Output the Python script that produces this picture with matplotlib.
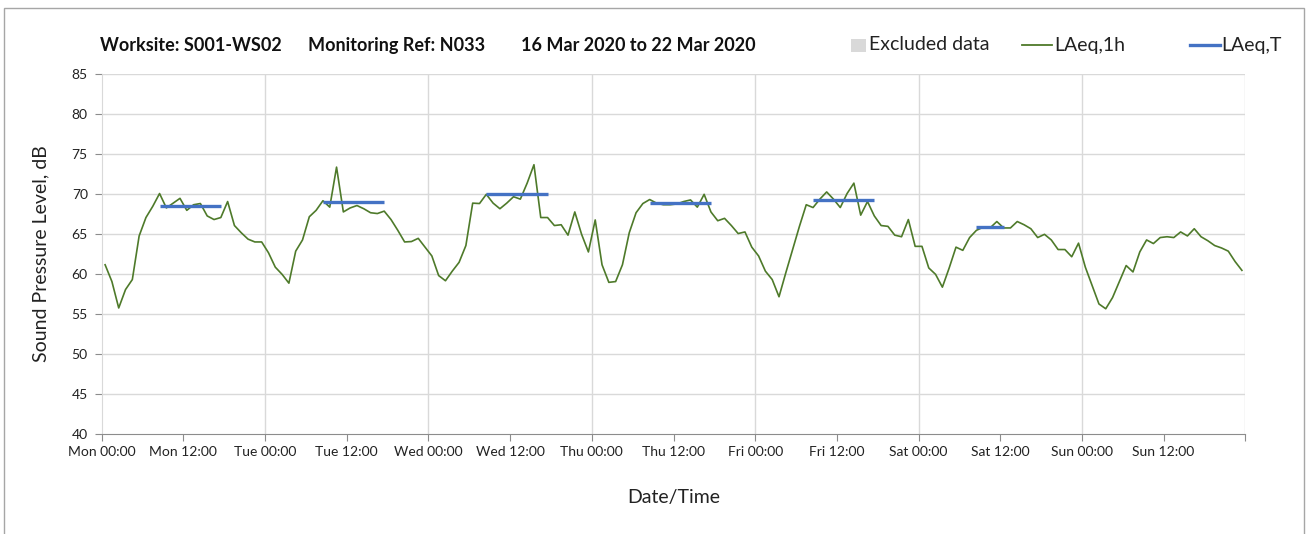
import matplotlib
matplotlib.use("Agg")
import matplotlib.pyplot as plt
from matplotlib.lines import Line2D
from matplotlib.patches import Rectangle
import numpy as np

plt.rcParams['font.family'] = ['Lato', 'DejaVu Sans']

title_parts = ["Worksite: S001-WS02", "Monitoring Ref: N033", "16 Mar 2020 to 22 Mar 2020"]
legend_labels = ["Excluded data", "LAeq,1h", "LAeq,T"]
day_names = ["Mon", "Tue", "Wed", "Thu", "Fri", "Sat", "Sun"]

# Hourly LAeq,1h values per day (hours 00..23)
mon = [61.1, 59.0, 55.7, 58.0, 59.25, 64.7, 67.0, 68.4, 70.0, 68.2, 68.8, 69.4,
       67.9, 68.6, 68.75, 67.2, 66.75, 67.0, 69.0, 66.0, 65.1, 64.3, 63.95, 63.95]
tue = [62.6, 60.8, 59.9, 58.8, 62.8, 64.2, 67.1, 67.9, 69.1, 68.3, 73.3, 67.7,
       68.2, 68.5, 68.1, 67.6, 67.5, 67.8, 66.75, 65.4, 63.95, 64.0, 64.4, 63.3]
wed = [62.2, 59.75, 59.1, 60.3, 61.4, 63.5, 68.8, 68.75, 69.9, 68.8, 68.1, 68.8,
       69.6, 69.3, 71.3, 73.6, 67.0, 67.0, 66.0, 66.1, 64.8, 67.7, 64.9, 62.7]
thu = [66.7, 61.1, 58.9, 59.0, 61.1, 65.1, 67.6, 68.75, 69.25, 68.8, 68.6, 68.6,
       68.7, 69.0, 69.2, 68.3, 69.9, 67.7, 66.6, 66.9, 66.0, 65.0, 65.2, 63.3]
fri = [62.2, 60.3, 59.25, 57.1, 60.1, 63.0, 65.9, 68.6, 68.25, 69.3, 70.2, 69.3,
       68.25, 70.0, 71.3, 67.3, 69.0, 67.2, 66.0, 65.9, 64.8, 64.6, 66.75, 63.4]
sat = [63.4, 60.7, 59.9, 58.3, 60.7, 63.3, 62.9, 64.5, 65.4, 65.8, 65.7, 66.5,
       65.7, 65.7, 66.5, 66.1, 65.6, 64.5, 64.9, 64.2, 63.0, 63.0, 62.1, 63.8]
sun = [60.8, 58.5, 56.2, 55.6, 57.0, 59.0, 61.0, 60.2, 62.7, 64.2, 63.75, 64.5,
       64.6, 64.5, 65.2, 64.7, 65.6, 64.6, 64.1, 63.5, 63.2, 62.8, 61.5, 60.4]

# LAeq,T over working period per day (Mon..Sat)
period_day = [0, 1, 2, 3, 4, 5]
period_start = [8, 8, 8, 8, 8, 8]
period_end = [18, 18, 18, 18, 18, 13]
laeq_t = [68.4, 69.0, 69.9, 68.8, 69.2, 65.8]

green = "#4e7a2a"
blue = "#4472c4"
grid_c = "#d9d9d9"
excl_c = "#d9d9d9"
text_c = "#222222"

W, H = 1309, 534
fig = plt.figure(figsize=(W / 100, H / 100), dpi=100)
ax = fig.add_axes([101.7 / W, 1 - 433.6 / H, (1245.3 - 101.7) / W, (433.6 - 73.5) / H])

laeq1h = np.array(mon + tue + wed + thu + fri + sat + sun)
hours = np.arange(len(laeq1h)) + 0.5
ax.plot(hours, laeq1h, color=green, lw=1.2, zorder=3)

for d, s, e, v in zip(period_day, period_start, period_end, laeq_t):
    ax.plot([d * 24 + s + 0.5, d * 24 + e - 0.5], [v, v], color=blue, lw=2.4,
            solid_capstyle='butt', zorder=4)

ax.set_xlim(0, 168)
ax.set_ylim(40, 85)
ax.set_yticks(np.arange(40, 86, 5))
xt = np.arange(0, 169, 12)
ax.set_xticks(xt)
labels = []
for t in xt:
    if t >= 168:
        labels.append("")
    else:
        labels.append(f"{day_names[t // 24]} {t % 24:02d}:00")
ax.set_xticklabels(labels)

for v in np.arange(45, 86, 5):
    ax.axhline(v, color=grid_c, lw=1.0, zorder=1)
for t in np.arange(24, 169, 24):
    ax.axvline(t, color=grid_c, lw=1.0, zorder=1)

for sp in ["top", "right"]:
    ax.spines[sp].set_visible(False)
ax.spines["left"].set_color(grid_c)
ax.spines["bottom"].set_color("#8c8c8c")
ax.tick_params(axis='x', length=5, color="#8c8c8c", labelsize=10, pad=4, labelcolor=text_c)
ax.tick_params(axis='y', length=5, color="#8c8c8c", labelsize=10, pad=5, labelcolor=text_c)

ax.set_ylabel("Sound Pressure Level, dB", fontsize=14, labelpad=16, color=text_c)
ax.set_xlabel("Date/Time", fontsize=14, labelpad=22, color=text_c)

# Title, in three parts
for xpix, txt in zip([100, 308, 521], title_parts):
    fig.text(xpix / W, 1 - 51 / H, txt, fontsize=13, fontweight='bold', color="#111111",
             ha='left', va='baseline')

# Legend, drawn in figure pixels
ly = 1 - 45 / H
fig.patches.append(Rectangle((851 / W, 1 - 52 / H), 15 / W, 13 / H, transform=fig.transFigure,
                             facecolor=excl_c, edgecolor='none'))
fig.lines.append(Line2D([1022 / W, 1052 / W], [ly, ly], transform=fig.transFigure,
                        color=green, lw=1.3))
fig.lines.append(Line2D([1190 / W, 1220 / W], [ly, ly], transform=fig.transFigure,
                        color=blue, lw=2.4))
for xpix, txt in zip([869, 1054, 1221], legend_labels):
    fig.text(xpix / W, ly, txt, fontsize=14, color=text_c, ha='left', va='center')

fig.patches.append(Rectangle((4 / W, -0.05), 1300 / W, 1.05 - 8 / H, transform=fig.transFigure,
                             fill=False, edgecolor="#a6a6a6", lw=1.0))

fig.savefig("out.png", dpi=100)
